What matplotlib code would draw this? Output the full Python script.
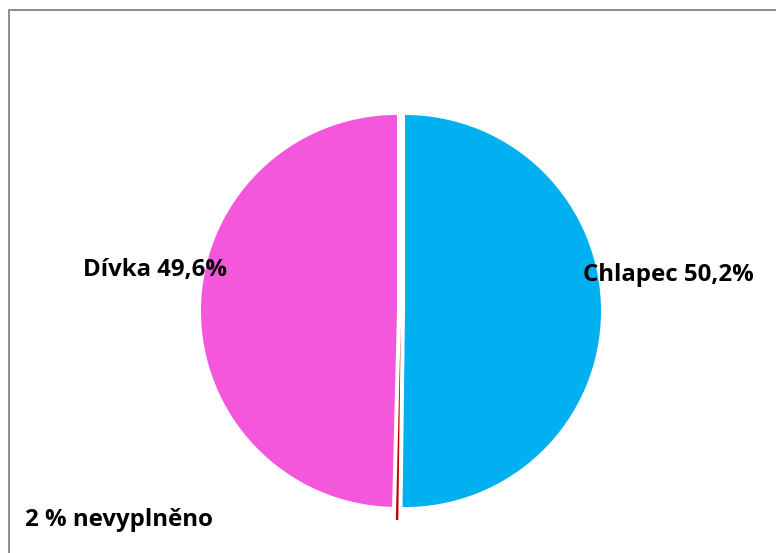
import matplotlib
matplotlib.use("Agg")
import matplotlib.pyplot as plt
from matplotlib.patches import Rectangle

# Gender split of respondents
categories = ["Chlapec", "nevyplněno", "Dívka"]
shares = [50.2, 0.2, 49.6]
colors = ["#00B0F0", "#C00000", "#F456DC"]
label_texts = {
    "Chlapec": "Chlapec 50,2%",
    "Dívka": "Dívka 49,6%",
    "nevyplněno": "2 % nevyplněno",
}

W, H = 776, 553
fig = plt.figure(figsize=(W / 100, H / 100), dpi=100)
ax = fig.add_axes([0, 0, 1, 1])

# axes data units are pixels; explode offsets are in the same units
cx, cy, r = 401, H - 311, 196
explode = [4, 13, 4]
ax.pie(shares, colors=colors, explode=explode, startangle=90,
       counterclock=False, radius=r, center=(cx, cy),
       wedgeprops=dict(linewidth=0), frame=True)
ax.set_xlim(0, W)
ax.set_ylim(0, H)
ax.set_aspect("equal")
ax.axis("off")

# Chart-area border (only top and left edges fall inside the image)
fig.patches.append(Rectangle((9 / W, -0.2), 2, (H - 10) / H + 0.2,
                             transform=fig.transFigure, fill=False,
                             edgecolor="#8c8c8c", linewidth=1.4, figure=fig))

font = dict(family="Open Sans", fontweight="bold", fontsize=17.3, color="black")
ax.text(583, H - 275, label_texts["Chlapec"], ha="left", va="center", **font)
ax.text(83, H - 270, label_texts["Dívka"], ha="left", va="center", **font)
ax.text(25, H - 520, label_texts["nevyplněno"], ha="left", va="center", **font)

fig.savefig("out.png", dpi=100, facecolor="white")
